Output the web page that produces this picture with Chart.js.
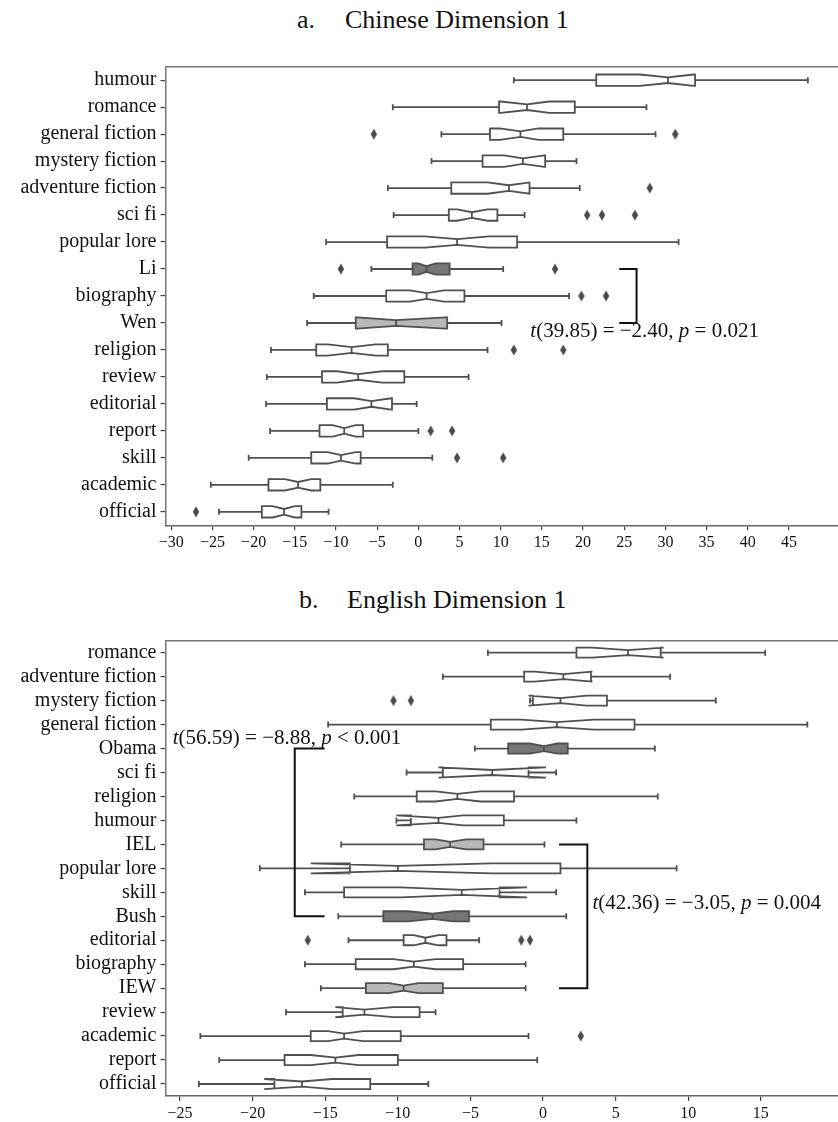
<!DOCTYPE html>
<html>
<head>
<meta charset="utf-8">
<script src="https://cdn.jsdelivr.net/npm/chart.js@4.4.1/dist/chart.umd.min.js"></script>
<style>
  body { margin: 0; background: #fff; }
  #wrap { position: relative; width: 838px; height: 1122px; overflow: hidden; }
  canvas { position: absolute; left: 0; }
  .ttl { position: absolute; font-family: "Liberation Serif", serif; font-size: 26px; color: #111; line-height: 1; white-space: nowrap; }
</style>
</head>
<body>
<div id="wrap">
  <span class="ttl" style="left:297px; top:7px;">a.</span>
  <span class="ttl" style="left:345px; top:7px;">Chinese Dimension 1</span>
  <canvas id="chartA" width="846" height="560" style="top:0"></canvas>
  <span class="ttl" style="left:299px; top:587px;">b.</span>
  <span class="ttl" style="left:347px; top:587px;">English Dimension 1</span>
  <canvas id="chartB" width="846" height="562" style="top:560px"></canvas>
</div>
<script>
// ---- a. Chinese Dimension 1 ----
const rowsA = ['humour', 'romance', 'general fiction', 'mystery fiction', 'adventure fiction', 'sci fi',
    'popular lore', 'Li', 'biography', 'Wen', 'religion', 'review', 'editorial', 'report', 'skill',
    'academic', 'official'];
const whiskerLowA  = [11.6, -3.1, 2.8, 1.6, -3.7, -3.0, -11.2, -5.7, -12.7, -13.5, -17.9, -18.4, -18.5, -18.0, -20.6, -25.2, -24.2];
const q1A          = [21.6, 9.8, 8.7, 7.8, 4.0, 3.7, -3.8, -0.7, -3.9, -7.6, -12.4, -11.7, -11.1, -12.0, -13.0, -18.2, -19.0];
const notchLowA    = [26.9, 10.0, 9.9, 10.4, 8.4, 4.7, 0.8, 0.0, -1.0, -7.4, -11.0, -9.9, -7.8, -10.4, -11.0, -16.2, -17.7];
const medianA      = [30.3, 13.2, 12.4, 12.7, 11.0, 6.5, 4.7, 1.0, 1.0, -2.7, -8.1, -7.3, -5.7, -9.0, -9.4, -14.6, -16.3];
const notchHighA   = [33.4, 15.9, 14.6, 15.3, 13.5, 8.4, 8.6, 2.1, 3.1, 3.3, -5.2, -4.4, -3.3, -7.6, -7.6, -13.0, -15.0];
const q3A          = [33.6, 19.0, 17.6, 15.4, 13.5, 9.6, 12.0, 3.8, 5.6, 3.5, -3.7, -1.7, -3.2, -6.7, -7.0, -11.9, -14.2];
const whiskerHighA = [47.3, 27.7, 28.8, 19.2, 19.6, 12.9, 31.6, 10.3, 18.3, 10.1, 8.4, 6.1, -0.2, 0.0, 1.7, -3.1, -10.9];
const outliersA = {
    'general fiction': [-5.4, 31.2],
    'adventure fiction': [28.1],
    'sci fi': [20.5, 22.3, 26.3],
    'Li': [-9.4, 16.6],
    'biography': [19.8, 22.8],
    'religion': [11.6, 17.6],
    'report': [1.5, 4.1],
    'skill': [4.7, 10.3],
    'official': [-27.0]
};
const ticksA = [-30, -25, -20, -15, -10, -5, 0, 5, 10, 15, 20, 25, 30, 35, 40, 45];

// ---- b. English Dimension 1 ----
const rowsB = ['romance', 'adventure fiction', 'mystery fiction', 'general fiction', 'Obama', 'sci fi',
    'religion', 'humour', 'IEL', 'popular lore', 'skill', 'Bush', 'editorial', 'biography', 'IEW',
    'review', 'academic', 'report', 'official'];
const whiskerLowB  = [-3.8, -6.9, -0.9, -14.8, -4.7, -9.4, -13.0, -10.1, -13.9, -19.5, -16.4, -14.1, -13.4, -16.4, -15.3, -17.7, -23.6, -22.3, -23.7];
const q1B          = [2.3, -1.3, -0.7, -3.6, -2.4, -6.9, -8.7, -9.1, -8.2, -13.3, -13.7, -11.0, -9.6, -12.9, -12.2, -13.8, -16.0, -17.8, -18.5];
const notchLowB    = [3.4, -0.6, -1.0, -1.5, -0.9, -7.2, -7.4, -10.1, -7.4, -16.0, -9.8, -9.3, -8.9, -10.3, -10.6, -14.3, -14.8, -16.0, -19.2];
const medianB      = [5.85, 1.4, 1.2, 0.95, 0.06, -3.5, -5.9, -7.2, -6.4, -10.0, -5.6, -7.6, -8.1, -8.9, -9.6, -12.3, -13.7, -14.3, -16.6];
const notchHighB   = [8.3, 3.4, 3.0, 3.5, 1.0, 0.2, -4.3, -5.5, -5.3, -3.5, -1.1, -6.2, -7.2, -7.4, -8.6, -10.3, -12.4, -12.7, -14.5];
const q3B          = [8.1, 3.3, 4.4, 6.3, 1.7, -1.0, -2.0, -2.7, -4.1, 1.2, -3.0, -5.1, -6.65, -5.5, -6.9, -8.5, -9.8, -10.0, -11.9];
const whiskerHighB = [15.3, 8.75, 11.9, 18.2, 7.7, 0.9, 7.9, 2.3, 0.1, 9.2, 0.9, 1.6, -4.4, -1.2, -1.2, -7.4, -1.0, -0.4, -7.9];
const outliersB = {
    'mystery fiction': [-10.3, -9.1],
    'editorial': [-16.2, -1.5, -0.9],
    'academic': [2.6]
};
const ticksB = [-25, -20, -15, -10, -5, 0, 5, 10, 15];

// highlighted rows (fill shades)
const darkRows = ['Li', 'Obama', 'Bush'];
const lightRows = ['Wen', 'IEL', 'IEW'];

const LINE = '#505050';
const FONT = '"Liberation Serif", serif';

// thin diamond marker like matplotlib 'd'
const diamond = document.createElement('canvas');
diamond.width = 8; diamond.height = 12;
(() => {
    const c = diamond.getContext('2d');
    c.fillStyle = '#4a4a4a';
    c.beginPath();
    c.moveTo(4, 0.5); c.lineTo(7.2, 6); c.lineTo(4, 11.5); c.lineTo(0.8, 6);
    c.closePath(); c.fill();
})();

const toPoints = (outliers) => {
    const pts = [];
    Object.keys(outliers).forEach(row => {
        outliers[row].forEach(v => pts.push({ x: v, y: row }));
    });
    return pts;
};

const fmtTick = (v) => v < 0 ? '\u2212' + Math.abs(v) : String(v);

// text runs with italic letters
const drawRuns = (ctx, x, y, runs, size) => {
    ctx.textBaseline = 'middle';
    ctx.textAlign = 'left';
    ctx.fillStyle = '#111';
    runs.forEach(r => {
        ctx.font = (r.i ? 'italic ' : '') + size + 'px ' + FONT;
        ctx.fillText(r.t, x, y);
        x += ctx.measureText(r.t).width;
    });
};

const rowsIndex = (rows, name) => rows.indexOf(name);

const boxPlugin = (spec) => ({
    id: 'notchedBoxes',
    beforeDatasetsDraw(chart) {
        const { ctx, chartArea, scales } = chart;
        const xs = scales.x, ys = scales.y;
        const px = v => xs.getPixelForValue(v);
        ctx.save();
        // top spine
        ctx.strokeStyle = '#777';
        ctx.lineWidth = 1.5;
        ctx.beginPath();
        ctx.moveTo(chartArea.left, chartArea.top);
        ctx.lineTo(chartArea.right, chartArea.top);
        ctx.stroke();

        const step = Math.abs(ys.getPixelForValue(1) - ys.getPixelForValue(0));
        const h = step * 0.21, w = h * 0.5, cap = 3;
        ctx.lineWidth = 1.8;
        ctx.strokeStyle = LINE;
        spec.rows.forEach((row, i) => {
            const cy = ys.getPixelForValue(i);
            // whiskers
            ctx.beginPath();
            ctx.moveTo(px(spec.wl[i]), cy); ctx.lineTo(px(spec.q1[i]), cy);
            ctx.moveTo(px(spec.q3[i]), cy); ctx.lineTo(px(spec.wh[i]), cy);
            ctx.moveTo(px(spec.wl[i]), cy - cap); ctx.lineTo(px(spec.wl[i]), cy + cap);
            ctx.moveTo(px(spec.wh[i]), cy - cap); ctx.lineTo(px(spec.wh[i]), cy + cap);
            ctx.stroke();
            // notched box
            ctx.beginPath();
            ctx.moveTo(px(spec.q1[i]), cy + h);
            ctx.lineTo(px(spec.nl[i]), cy + h);
            ctx.lineTo(px(spec.med[i]), cy + w);
            ctx.lineTo(px(spec.nh[i]), cy + h);
            ctx.lineTo(px(spec.q3[i]), cy + h);
            ctx.lineTo(px(spec.q3[i]), cy - h);
            ctx.lineTo(px(spec.nh[i]), cy - h);
            ctx.lineTo(px(spec.med[i]), cy - w);
            ctx.lineTo(px(spec.nl[i]), cy - h);
            ctx.lineTo(px(spec.q1[i]), cy - h);
            ctx.closePath();
            ctx.fillStyle = darkRows.includes(row) ? '#777777' : (lightRows.includes(row) ? '#b8b8b8' : '#ffffff');
            ctx.fill();
            ctx.stroke();
            // median
            ctx.beginPath();
            ctx.moveTo(px(spec.med[i]), cy - w);
            ctx.lineTo(px(spec.med[i]), cy + w);
            ctx.stroke();
        });
        ctx.restore();
    },
    afterDatasetsDraw(chart) {
        const { ctx, scales } = chart;
        const xs = scales.x, ys = scales.y;
        ctx.save();
        ctx.strokeStyle = '#111';
        ctx.lineWidth = 2;
        spec.brackets.forEach(b => {
            const y1 = ys.getPixelForValue(rowsIndex(spec.rows, b.from));
            const y2 = ys.getPixelForValue(rowsIndex(spec.rows, b.to));
            ctx.beginPath();
            ctx.moveTo(xs.getPixelForValue(b.armEnd), y1);
            ctx.lineTo(xs.getPixelForValue(b.at), y1);
            ctx.lineTo(xs.getPixelForValue(b.at), y2);
            ctx.lineTo(xs.getPixelForValue(b.armEnd), y2);
            ctx.stroke();
        });
        spec.labels.forEach(l => {
            drawRuns(ctx, xs.getPixelForValue(l.x), ys.getPixelForValue(l.y), l.runs, 21);
        });
        ctx.restore();
    }
});

const makeChart = (id, rows, spec, outliers, ticks, xMin, xMax, padTop, xHeight) => {
    const ctx = document.getElementById(id).getContext('2d');
    return new Chart(ctx, {
        type: 'scatter',
        data: {
            datasets: [{
                data: toPoints(outliers),
                pointStyle: diamond,
                pointRadius: 5,
                pointHoverRadius: 5
            }]
        },
        options: {
            responsive: false,
            animation: false,
            events: [],
            layout: { padding: { top: padTop, left: 0, right: 0, bottom: 0 } },
            plugins: { legend: { display: false }, tooltip: { enabled: false } },
            scales: {
                x: {
                    type: 'linear',
                    min: xMin,
                    max: xMax,
                    afterBuildTicks: (scale) => { scale.ticks = ticks.map(v => ({ value: v })); },
                    afterFit: (scale) => { scale.height = xHeight; },
                    grid: { display: true, drawOnChartArea: false, drawTicks: true, tickLength: 5, color: '#444', lineWidth: 1.2 },
                    border: { display: true, color: '#666', width: 1.5 },
                    ticks: {
                        color: '#111',
                        padding: 3,
                        maxRotation: 0,
                        autoSkip: false,
                        font: { family: FONT, size: 16 },
                        callback: (v) => fmtTick(v)
                    }
                },
                y: {
                    type: 'category',
                    labels: rows,
                    offset: true,
                    afterFit: (scale) => { scale.width = 165.5; },
                    grid: { display: true, offset: false, drawOnChartArea: false, drawTicks: true, tickLength: 5, color: '#444', lineWidth: 1.2 },
                    border: { display: true, color: '#777', width: 1.5 },
                    ticks: {
                        color: '#111',
                        padding: 4,
                        autoSkip: false,
                        font: { family: FONT, size: 20 }
                    }
                }
            }
        },
        plugins: [boxPlugin(spec)]
    });
};

makeChart('chartA', rowsA, {
    rows: rowsA, wl: whiskerLowA, q1: q1A, nl: notchLowA, med: medianA, nh: notchHighA, q3: q3A, wh: whiskerHighA,
    brackets: [{ from: 'Li', to: 'Wen', at: 26.5, armEnd: 24.4 }],
    labels: [{ x: 13.6, y: 9.32, runs: [{ t: 't', i: true }, { t: '(39.85) = \u22122.40, ' }, { t: 'p', i: true }, { t: ' = 0.021' }] }]
}, outliersA, ticksA, -30.7, 51.2, 66.7, 34.7);

makeChart('chartB', rowsB, {
    rows: rowsB, wl: whiskerLowB, q1: q1B, nl: notchLowB, med: medianB, nh: notchHighB, q3: q3B, wh: whiskerHighB,
    brackets: [
        { from: 'Obama', to: 'Bush', at: -17.1, armEnd: -15.05 },
        { from: 'IEL', to: 'IEW', at: 3.05, armEnd: 1.1 }
    ],
    labels: [
        { x: -25.5, y: 3.59, runs: [{ t: 't', i: true }, { t: '(56.59) = \u22128.88, ' }, { t: 'p', i: true }, { t: ' < 0.001' }] },
        { x: 3.4, y: 10.48, runs: [{ t: 't', i: true }, { t: '(42.36) = \u22123.05, ' }, { t: 'p', i: true }, { t: ' = 0.004' }] }
    ]
}, outliersB, ticksB, -26.0, 20.45, 80.7, 26);
</script>
</body>
</html>
